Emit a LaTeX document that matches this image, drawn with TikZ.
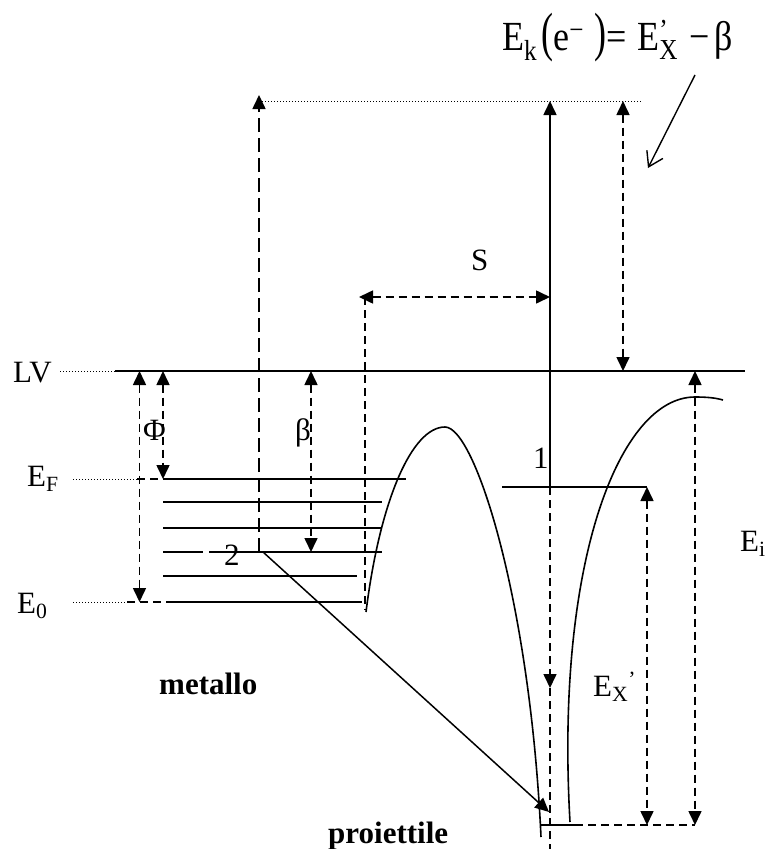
\documentclass[tikz,border=0pt]{standalone}
\usepackage{fontspec}
\setmainfont{Liberation Serif}
\usepackage{graphicx}
\usetikzlibrary{arrows.meta}
\begin{document}
\begin{tikzpicture}[x=1pt,y=-1pt,
  ln/.style={line width=1.6pt},
  dsh/.style={line width=1.6pt, dash pattern=on 8pt off 5pt},
  longdsh/.style={line width=1.6pt, dash pattern=on 14pt off 6pt},
  dotl/.style={line width=1pt, dash pattern=on 1pt off 2pt},
  tipe/.style={-{Triangle[length=14pt,width=13pt]}},
  tipb/.style={{Triangle[length=14pt,width=13pt]}-{Triangle[length=14pt,width=13pt]}},
  lbl/.style={inner sep=0pt, font=\fontsize{31}{31}\selectfont, anchor=base west},
  boldlbl/.style={inner sep=0pt, font=\fontsize{31}{31}\selectfont\bfseries, anchor=base west}]
\useasboundingbox (0,0) rectangle (767,849);

% ---------- coordinates ----------
\coordinate (lvD) at (60,371);   \coordinate (lvL) at (115,371);  \coordinate (lvR) at (745,371);
\coordinate (efD0) at (73,479);  \coordinate (efD1) at (137,479); \coordinate (efS0) at (163,479); \coordinate (efS1) at (406,479);
\coordinate (e0D0) at (73,602);  \coordinate (e0D1) at (127,602); \coordinate (e0S0) at (173,602); \coordinate (e0S1) at (362,602);
\coordinate (phiT) at (139.5,371); \coordinate (phiB) at (139.5,602);
\coordinate (wfT) at (163,371);  \coordinate (wfB) at (163,479);
\coordinate (betT) at (311,371); \coordinate (betB) at (311,552);
\coordinate (twoP) at (259,552); \coordinate (topL) at (259,95);
\coordinate (dotA) at (259,101); \coordinate (dotB) at (642,101);
\coordinate (oneP) at (550,487); \coordinate (oneT) at (550,101);
\coordinate (ekT) at (623,101);  \coordinate (ekB) at (623,371);
\coordinate (fa) at (695,75);    \coordinate (fb) at (648,168);
\coordinate (sL) at (359,297);   \coordinate (sR) at (550,297);
\coordinate (sV) at (365,297);   \coordinate (sVB) at (365,610);
\coordinate (oneD) at (550,688); \coordinate (oneDB) at (550,849);
\coordinate (l1L) at (502,487);  \coordinate (l1R) at (647,487);
\coordinate (exB) at (647,825);
\coordinate (eiT) at (695,371);  \coordinate (eiB) at (695,825);
\coordinate (botL) at (541,825); \coordinate (botM) at (575,825);
\coordinate (twoS) at (263,552); \coordinate (twoE) at (549,812);

% ---------- levels ----------
\draw[dotl] (lvD) -- (lvL);
\draw[ln] (lvL) -- (lvR);
\draw[dotl] (efD0) -- (efD1);
\draw[dsh] (efD1) -- (efS0);
\draw[ln] (efS0) -- (efS1);
\draw[ln] (163,502) -- (382,502);
\draw[ln] (163,528) -- (382,528);
\draw[ln] (163,552) -- (203,552);
\draw[ln] (209,552) -- (382,552);
\draw[ln] (163,576) -- (357,576);
\draw[dotl] (e0D0) -- (e0D1);
\draw[dsh] (e0D1) -- (e0S0);
\draw[ln] (e0S0) -- (e0S1);

% ---------- arrows ----------
\draw[dsh,tipb] (phiT) -- (phiB);
\draw[dsh,tipb] (wfT) -- (wfB);
\draw[dsh,tipb] (betT) -- (betB);
\draw[longdsh,tipe] (twoP) -- (topL);
\draw[dotl] (dotA) -- (dotB);
\draw[ln,tipe] (oneP) -- (oneT);
\draw[dsh,tipb] (ekT) -- (ekB);
\draw[line width=1.4pt,-{Straight Barb[length=14pt,width=18pt]}] (fa) -- (fb);
\draw[dsh,tipb] (sL) -- (sR);
\draw[dsh] (sV) -- (sVB);
\draw[dsh,tipe] (oneP) -- (oneD);
\draw[dsh] (oneD) -- (oneDB);

% ---------- potential curves ----------
\draw[ln] (366,612) .. controls (380,500) and (412,427) .. (445,427)
          .. controls (475,427) and (530,600) .. (541,837);
\draw[ln] (570,822) .. controls (555,560) and (620,397) .. (695,397)
          .. controls (708,397) and (716,398) .. (723,400);
\draw[ln] (botL) -- (botM);
\draw[dsh] (botM) -- (eiB);
\draw[ln] (l1L) -- (l1R);
\draw[dsh,tipb] (l1R) -- (exB);
\draw[dsh,tipb] (eiT) -- (eiB);
\draw[line width=1.5pt,tipe] (twoS) -- (twoE);

% ---------- labels ----------
\node[lbl] (LV) at (13,382) {LV};
\node[lbl] (EF) at (27,486) {E\textsubscript{F}};
\node[lbl] (E0) at (17,613) {E\textsubscript{0}};
\node[lbl] (Phi) at (143,440) {Φ};
\node[lbl] (beta) at (295,440) {β};
\node[lbl] (S) at (471,270) {S};
\node[lbl] (one) at (533,468) {1};
\node[lbl] (two) at (224,565) {2};
\node[boldlbl] (metallo) at (159,694) {metallo};
\node[boldlbl] (proiettile) at (328,843) {proiettile};
\node[lbl] (EX) at (593,696) {E\textsubscript{X}\textsuperscript{’}};
\node[lbl] (Ei) at (740,551) {E\textsubscript{i}\textsuperscript{’}};
\node[inner sep=0pt, anchor=base west, font=\fontsize{36}{36}\selectfont] (formula) at (502,50)
  {\scalebox{1}[1.15]{E\textsubscript{k}\hspace{4pt}\scalebox{1}[1.3]{(}e\textsuperscript{−}\hspace{11pt}\scalebox{1}[1.3]{)}=\hspace{10pt}E\rlap{\textsuperscript{'}}\textsubscript{X}\hspace{12pt}−\hspace{4pt}β}};
\end{tikzpicture}
\end{document}
